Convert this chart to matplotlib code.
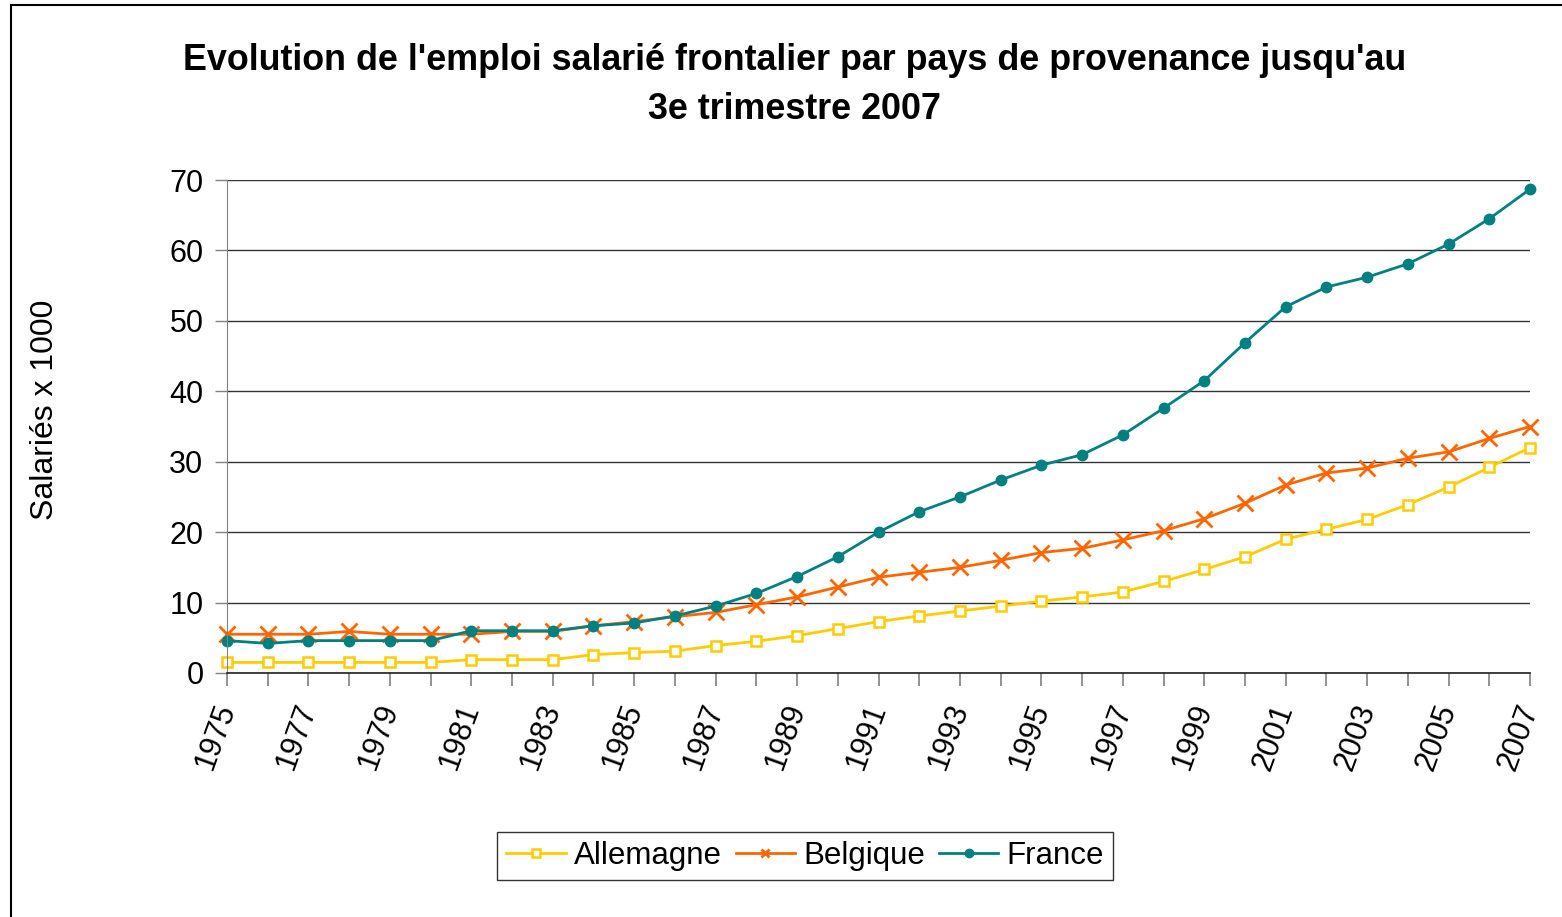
import numpy as np
import matplotlib.pyplot as plt
from matplotlib.lines import Line2D

plt.rcParams['font.family'] = ['Liberation Sans', 'DejaVu Sans']

# Data (salariés x 1000)
years = list(range(1975, 2008))
allemagne = [1.5, 1.5, 1.5, 1.5, 1.5, 1.5, 1.9, 1.9, 1.9, 2.6, 2.9,
             3.1, 3.9, 4.5, 5.3, 6.3, 7.3, 8.1, 8.8, 9.5, 10.2,
             10.8, 11.5, 13.0, 14.7, 16.5, 19.0, 20.4, 21.8, 23.9, 26.4,
             29.2, 32.0]
belgique = [5.5, 5.5, 5.5, 5.9, 5.5, 5.5, 5.5, 5.9, 5.9, 6.7, 7.3,
            8.0, 8.6, 9.7, 10.8, 12.2, 13.6, 14.3, 15.0, 16.0, 17.1,
            17.7, 18.9, 20.2, 21.9, 24.1, 26.7, 28.4, 29.1, 30.5, 31.4,
            33.3, 35.0]
france = [4.6, 4.2, 4.6, 4.6, 4.6, 4.6, 6.0, 6.0, 6.0, 6.7, 7.1,
          8.1, 9.5, 11.3, 13.7, 16.5, 20.0, 22.9, 25.0, 27.4, 29.5,
          31.0, 33.8, 37.6, 41.5, 46.9, 52.0, 54.8, 56.2, 58.1, 60.9,
          64.5, 68.7]

title = "Evolution de l'emploi salarié frontalier par pays de provenance jusqu'au\n3e trimestre 2007"

W, H = 1562, 917
fig = plt.figure(figsize=(W / 100, H / 100), dpi=100)
ax = fig.add_axes([227 / W, 1 - 673 / H, (1530 - 227) / W, (673 - 180) / H])

ax.plot(years, allemagne, color="#FFCC00", lw=2, marker="s", ms=7,
        mfc="white", mec="#FFCC00", mew=1.8, label="Allemagne", clip_on=False)
ax.plot(years, belgique, color="#FF6600", lw=2, marker="x", ms=11,
        mew=2, label="Belgique", clip_on=False)
ax.plot(years, france, color="#008080", lw=2, marker="o", ms=7.5,
        label="France", clip_on=False)

ax.set_xlim(1975, 2007)
ax.set_ylim(0, 70)
ax.set_yticks(range(0, 71, 10))
ax.yaxis.grid(True, color="#333333", lw=1)
ax.set_axisbelow(True)
for s in ["top", "right"]:
    ax.spines[s].set_visible(False)
ax.spines["left"].set_color("#808080")
ax.spines["bottom"].set_color("#222222")
ax.spines["bottom"].set_linewidth(1.2)

ax.set_xticks(years)
ax.set_xticklabels([str(y) if (y - 1975) % 2 == 0 else "" for y in years],
                   rotation=70, rotation_mode="anchor", ha="right", va="center")
ax.tick_params(axis="x", direction="out", length=9, width=1.2, color="#808080",
               labelsize=22, pad=14)
ax.tick_params(axis="y", direction="out", length=9, width=1, color="#808080",
               labelsize=22, pad=8)

fig.text(45 / W, 1 - 410 / H, "Salariés x 1000", rotation=90, fontsize=23,
         ha="center", va="center")
fig.text(795 / W, 1 - 85 / H, title, fontsize=25.8, fontweight="bold",
         ha="center", va="center", linespacing=1.55)

leg = fig.legend(loc="center", bbox_to_anchor=(805 / W, 1 - 856 / H), ncol=3,
                 fontsize=22.5, frameon=True, fancybox=False, handlelength=1.9,
                 handletextpad=0.25, columnspacing=0.45, borderpad=0.3,
                 borderaxespad=0)
leg.get_frame().set_edgecolor("#000000")
leg.get_frame().set_linewidth(1)
for h in leg.legend_handles:
    h.set_markersize(6)

# Outer chart frame (left and top edges visible)
fig.add_artist(Line2D([11 / W, 11 / W], [0, 1 - 5 / H], color="black", lw=1.5,
                      transform=fig.transFigure))
fig.add_artist(Line2D([11 / W, 1], [1 - 5 / H, 1 - 5 / H], color="black", lw=1.5,
                      transform=fig.transFigure))

fig.savefig("out.png", dpi=100)
